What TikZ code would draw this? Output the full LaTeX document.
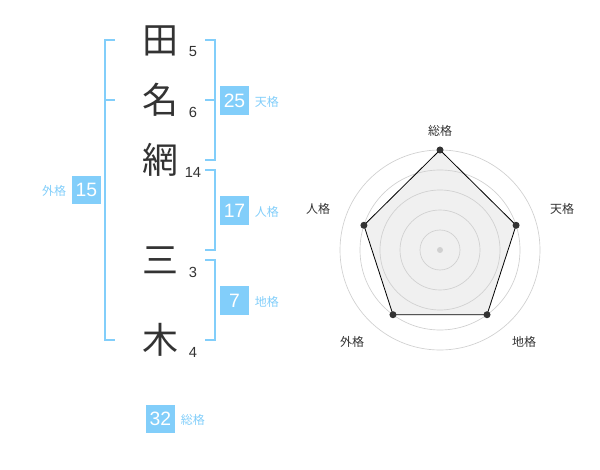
\documentclass[tikz,border=0pt]{standalone}
\usepackage{fontspec}
\setmainfont{Liberation Sans}
\newfontfamily\cjk{Noto Sans CJK JP}
\definecolor{skyline}{RGB}{130,206,250}
\definecolor{inkgrey}{RGB}{51,51,51}
\definecolor{ringgrey}{RGB}{208,208,208}
\definecolor{areagrey}{RGB}{240,240,240}
\tikzset{every picture/.style={line width=0.75pt}}
\tikzset{
  namechar/.style={text=inkgrey, font=\cjk\fontsize{27}{27}\selectfont, inner sep=0pt},
  strokes/.style={text=inkgrey, font=\fontsize{11}{11}\selectfont, inner sep=0.75pt},
  scorebox/.style={fill=skyline, text=white, minimum width=21.5pt, minimum height=21.5pt, inner sep=0pt, font=\fontsize{14.5}{15}\selectfont},
  scorelabel/.style={text=skyline, font=\cjk\fontsize{9}{10}\selectfont, inner sep=0.75pt},
  bracket/.style={draw=skyline, line width=1.5pt},
  axislabel/.style={text=inkgrey, font=\cjk\fontsize{9}{10}\selectfont, inner sep=0.75pt},
  ring/.style={draw=ringgrey, line width=0.5pt},
  vertex/.style={circle, fill=inkgrey, inner sep=0pt, minimum size=5.25pt}
}

\begin{document}
\begin{tikzpicture}[x=0.75pt,y=0.75pt,yscale=-1,xscale=1]
\useasboundingbox (0,0) rectangle (600,470);

% name
\draw (160,41) node [namechar] (ta)   {田};
\draw (160,100) node [namechar] (na)  {名};
\draw (160,160) node [namechar] (ami) {網};
\draw (160,260) node [namechar] (mi)  {三};
\draw (160,340) node [namechar] (ki)  {木};
\draw (193,52) node [strokes] (sta)   {5};
\draw (193,112) node [strokes] (sna)  {6};
\draw (193,172) node [strokes] (sami) {14};
\draw (193,272) node [strokes] (smi)  {3};
\draw (193,352) node [strokes] (ski)  {4};

% brackets
\draw [bracket] (115,40) -- (105,40) -- (105,340) -- (115,340) ;
\draw [bracket] (105,100) -- (115,100) ;
\draw [bracket] (205,40) -- (215,40) -- (215,160) -- (205,160) ;
\draw [bracket] (205,100) -- (215,100) ;
\draw [bracket] (205,170) -- (215,170) -- (215,250) -- (205,250) ;
\draw [bracket] (205,260) -- (215,260) -- (215,340) -- (205,340) ;

% scores
\draw (234.5,100.5) node [scorebox] (ten) {25};
\draw (234.5,210.5) node [scorebox] (jin) {17};
\draw (234.5,300.5) node [scorebox] (chi) {7};
\draw (86.5,190) node [scorebox] (gai) {15};
\draw (160.5,419) node [scorebox] (sou) {32};
\draw (ten.east) node [scorelabel, anchor=west, xshift=3pt, yshift=-1pt] {天格};
\draw (jin.east) node [scorelabel, anchor=west, xshift=3pt, yshift=-1pt] {人格};
\draw (chi.east) node [scorelabel, anchor=west, xshift=3pt, yshift=-1pt] {地格};
\draw (gai.west) node [scorelabel, anchor=east, xshift=-3pt, yshift=-1pt] {外格};
\draw (sou.east) node [scorelabel, anchor=west, xshift=3pt, yshift=-1pt] {総格};

% radar
\coordinate (hub) at (440,250);
\coordinate (vsou) at ([shift={(-90:100)}]hub);
\coordinate (vten) at ([shift={(-18:80)}]hub);
\coordinate (vchi) at ([shift={(54:80)}]hub);
\coordinate (vgai) at ([shift={(126:80)}]hub);
\coordinate (vjin) at ([shift={(198:80)}]hub);
\fill [areagrey] (vsou) -- (vten) -- (vchi) -- (vgai) -- (vjin) -- cycle ;
\foreach \r in {20,40,60,80,100} {
  \draw [ring] (hub) circle (\r) ;
}
\draw [line width=0.6pt, draw=black] (vsou) -- (vten) -- (vchi) -- (vgai) -- (vjin) -- cycle ;
\foreach \v in {vsou,vten,vchi,vgai,vjin} {
  \node [vertex] at (\v) {};
}
\fill [ringgrey] (hub) circle (3) ;

\draw (440,131) node [axislabel] (lsou) {総格};
\draw (562,209) node [axislabel] (lten) {天格};
\draw (524,342) node [axislabel] (lchi) {地格};
\draw (352,342) node [axislabel] (lgai) {外格};
\draw (318,209) node [axislabel] (ljin) {人格};

\end{tikzpicture}
\end{document}
